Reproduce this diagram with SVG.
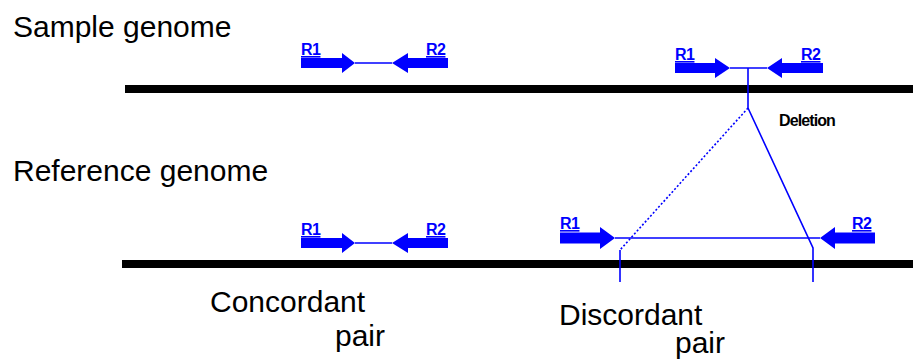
<svg xmlns="http://www.w3.org/2000/svg" width="913" height="362" viewBox="0 0 913 362">
<style>
.big{font-family:"Liberation Sans",Arial,sans-serif;font-size:30px;fill:#000}
.lab{font-family:"Liberation Sans",Arial,sans-serif;font-size:16px;font-weight:bold;fill:#0000ff;text-decoration:underline;letter-spacing:-0.5px}
.del{font-family:"Liberation Sans",Arial,sans-serif;font-size:16px;font-weight:bold;fill:#000;letter-spacing:-0.9px}
.arr{fill:#0000ff}
.ln{stroke:#0000ff;stroke-width:1.6;fill:none}
.dot{stroke:#0000ff;stroke-width:1.6;fill:none;stroke-dasharray:2 2}
.bar{fill:#000}
</style>
<rect width="913" height="362" fill="#fff"/>
<g id="sample-genome">
<rect class="bar" x="125" y="85" width="788" height="8"/>
<text class="big" x="13" y="37">Sample genome</text>
</g>
<g id="reference-genome">
<rect class="bar" x="122" y="260" width="791" height="8"/>
<text class="big" x="13" y="181">Reference genome</text>
</g>
<g id="connectors">
<line class="ln" x1="355" y1="63" x2="392" y2="63"/>
<line class="ln" x1="730" y1="68" x2="767" y2="68"/>
<line class="ln" x1="355" y1="243" x2="392" y2="243"/>
<line class="ln" x1="615" y1="238" x2="820" y2="238"/>
<line class="ln" x1="748" y1="68" x2="748" y2="108"/>
<line class="dot" x1="748" y1="108" x2="620" y2="250"/>
<line class="ln" x1="620" y1="250" x2="620" y2="282"/>
<polyline class="ln" points="748,108 813,248 813,282"/>
</g>
<g id="sample-concordant">
<polygon class="arr" points="301,58 342,58 342,53 355,63 342,73 342,68 301,68"/>
<polygon class="arr" points="448,58 408,58 408,53 392,63 408,73 408,68 448,68"/>
<text class="lab" x="301" y="55">R1</text>
<text class="lab" x="426" y="55">R2</text>
</g>
<g id="sample-deletion">
<polygon class="arr" points="675,63 715,63 715,58 730,68 715,78 715,73 675,73"/>
<polygon class="arr" points="823,63 782,63 782,58 767,68 782,78 782,73 823,73"/>
<text class="lab" x="675" y="60">R1</text>
<text class="lab" x="801" y="60">R2</text>
<text class="del" x="779" y="126">Deletion</text>
</g>
<g id="ref-concordant">
<polygon class="arr" points="301,238 342,238 342,233 355,243 342,253 342,248 301,248"/>
<polygon class="arr" points="448,238 408,238 408,233 392,243 408,253 408,248 448,248"/>
<text class="lab" x="301" y="235">R1</text>
<text class="lab" x="426" y="235">R2</text>
<text class="big" x="210" y="312">Concordant</text>
<text class="big" x="335" y="346">pair</text>
</g>
<g id="ref-discordant">
<polygon class="arr" points="560,232.5 600,232.5 600,227 615,238 600,249 600,243.5 560,243.5"/>
<polygon class="arr" points="875,232.5 835,232.5 835,227 820,238 835,249 835,243.5 875,243.5"/>
<text class="lab" x="560" y="229">R1</text>
<text class="lab" x="852" y="229">R2</text>
<text class="big" x="559" y="325">Discordant</text>
<text class="big" x="675" y="353">pair</text>
</g>
</svg>
